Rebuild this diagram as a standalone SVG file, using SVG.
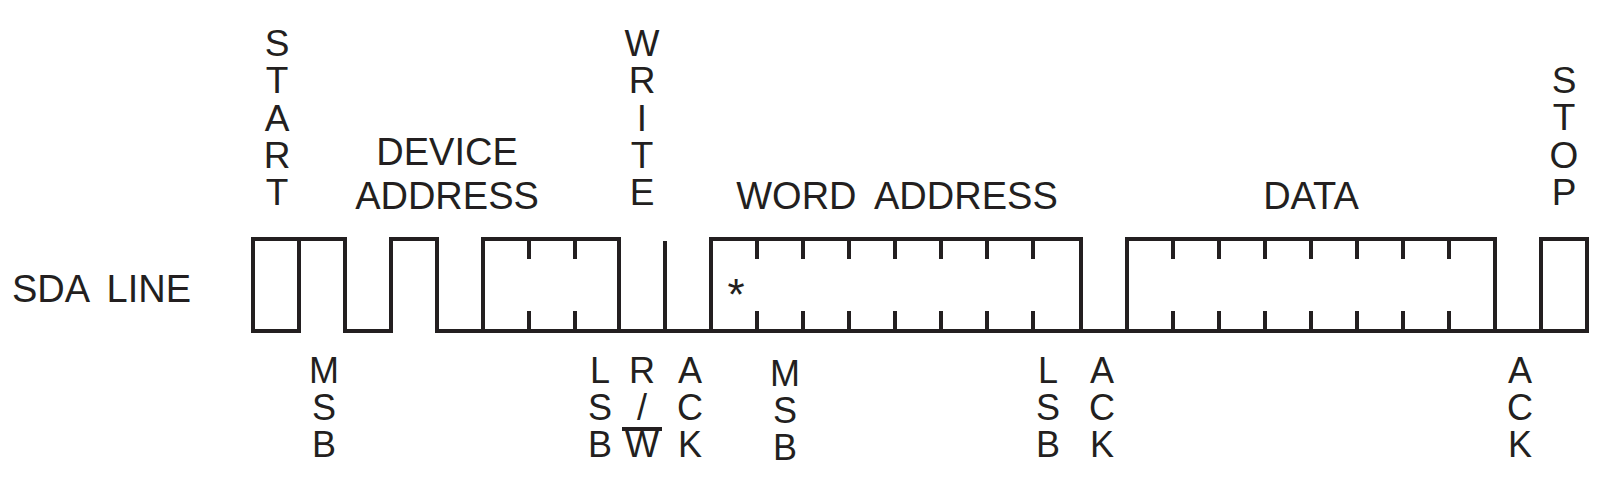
<svg xmlns="http://www.w3.org/2000/svg" width="1600" height="484" viewBox="0 0 1600 484">
<style>
.t{font-family:"Liberation Sans",Arial,sans-serif;font-size:37px;fill:#231f20;text-anchor:middle}
.b{font-size:36px}
.w{fill:none;stroke:#231f20;stroke-width:4;stroke-linejoin:miter}
</style>
<rect width="1600" height="484" fill="#fff"/>
<g id="signal">
<path class="w" d="M253,331 V239 H345 V331 H391 V239 H437 V331 H1587"/>
<rect id="start-bit" class="w" x="253" y="239" width="46" height="92"/>
<rect id="device-address" class="w" x="483" y="239" width="136" height="92"/>
<line class="w" x1="665" y1="241" x2="665" y2="331"/>
<rect id="word-address" class="w" x="711" y="239" width="370" height="92"/>
<rect id="data" class="w" x="1127" y="239" width="368" height="92"/>
<rect id="stop-bit" class="w" x="1541" y="239" width="46" height="92"/>
<path class="w" d="M529,239v20M575,239v20M529,311v20M575,311v20
M757,239v20M803,239v20M849,239v20M895,239v20M941,239v20M987,239v20M1033,239v20
M757,311v20M803,311v20M849,311v20M895,311v20M941,311v20M987,311v20M1033,311v20
M1173,239v20M1219,239v20M1265,239v20M1311,239v20M1357,239v20M1403,239v20M1449,239v20
M1173,311v20M1219,311v20M1265,311v20M1311,311v20M1357,311v20M1403,311v20M1449,311v20"/>
</g>
<g id="labels-top">
<text class="t" x="277" y="56"><tspan x="277">S</tspan><tspan x="277" dy="37.3">T</tspan><tspan x="277" dy="37.3">A</tspan><tspan x="277" dy="37.3">R</tspan><tspan x="277" dy="37.3">T</tspan></text>
<text class="t" x="447" y="165" style="font-size:38px">DEVICE</text>
<text class="t" x="447" y="209" style="font-size:38px">ADDRESS</text>
<text class="t" x="642" y="56"><tspan x="642">W</tspan><tspan x="642" dy="37.3">R</tspan><tspan x="642" dy="37.3">I</tspan><tspan x="642" dy="37.3">T</tspan><tspan x="642" dy="37.3">E</tspan></text>
<text class="t" x="897" y="209" style="font-size:38px;word-spacing:9px">WORD ADDRESS</text>
<text class="t" x="1311" y="209" style="font-size:38px">DATA</text>
<text class="t" x="1564" y="93"><tspan x="1564">S</tspan><tspan x="1564" dy="37.3">T</tspan><tspan x="1564" dy="37.3">O</tspan><tspan x="1564" dy="37.3">P</tspan></text>
</g>
<g id="labels-side">
<text class="t" x="12" y="302" style="text-anchor:start;font-size:38px;word-spacing:8px">SDA LINE</text>
<text class="t" x="736" y="310" style="font-size:44px">*</text>
</g>
<g id="labels-bottom">
<text class="t b" x="324" y="383"><tspan x="324">M</tspan><tspan x="324" dy="37">S</tspan><tspan x="324" dy="37">B</tspan></text>
<text class="t b" x="600" y="383"><tspan x="600">L</tspan><tspan x="600" dy="37">S</tspan><tspan x="600" dy="37">B</tspan></text>
<text class="t b" x="642" y="383"><tspan x="642">R</tspan><tspan x="642" dy="37">/</tspan><tspan x="642" dy="37">W</tspan></text>
<line x1="622" y1="429" x2="662" y2="429" stroke="#231f20" stroke-width="4"/>
<text class="t b" x="690" y="383"><tspan x="690">A</tspan><tspan x="690" dy="37">C</tspan><tspan x="690" dy="37">K</tspan></text>
<text class="t b" x="785" y="386"><tspan x="785">M</tspan><tspan x="785" dy="37">S</tspan><tspan x="785" dy="37">B</tspan></text>
<text class="t b" x="1048" y="383"><tspan x="1048">L</tspan><tspan x="1048" dy="37">S</tspan><tspan x="1048" dy="37">B</tspan></text>
<text class="t b" x="1102" y="383"><tspan x="1102">A</tspan><tspan x="1102" dy="37">C</tspan><tspan x="1102" dy="37">K</tspan></text>
<text class="t b" x="1520" y="383"><tspan x="1520">A</tspan><tspan x="1520" dy="37">C</tspan><tspan x="1520" dy="37">K</tspan></text>
</g>
</svg>
